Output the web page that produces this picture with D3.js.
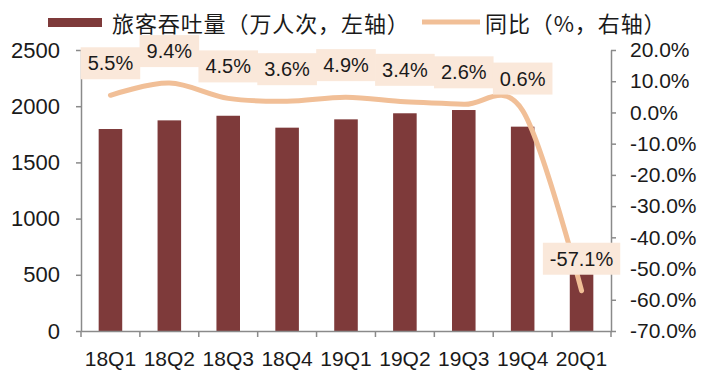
<!DOCTYPE html>
<html>
<head>
<meta charset="utf-8">
<script src="https://cdn.jsdelivr.net/npm/d3@7"></script>
<style>
  html, body { margin: 0; padding: 0; background: #ffffff; }
  svg { display: block; }
</style>
</head>
<body>
<svg id="chart" width="720" height="384"></svg>
<script>
const categories = ['18Q1','18Q2','18Q3','18Q4','19Q1','19Q2','19Q3','19Q4','20Q1'];
const passengers = [1797, 1874, 1915, 1809, 1883, 1937, 1966, 1818, 650];
const yoyPct = [5.5, 9.4, 4.5, 3.6, 4.9, 3.4, 2.6, 0.6, -57.1];
const leftTicks = [0, 500, 1000, 1500, 2000, 2500];
const rightTicks = [20, 10, 0, -10, -20, -30, -40, -50, -60, -70];
const legendBar = '旅客吞吐量（万人次，左轴）';
const legendLine = '同比（%，右轴）';

const barColor = '#7e3a3a';
const lineColor = '#f1bf97';
const boxColor = '#fae8da';
const axisColor = '#8a8a8a';
const textColor = '#1a1a1a';
const latin = '"Liberation Sans", Arial, sans-serif';
const cjk = '"Noto Sans CJK SC", "Liberation Sans", sans-serif';
const pct = v => v.toFixed(1) + '%';

const svg = d3.select('#chart');
const L = 81, R = 611, T = 50, B = 331;

const xAxisBand = d3.scaleBand().domain(categories).range([L, R]).padding(0);
const x = d3.scaleBand().domain(categories).range([L, R]).paddingInner(0.6).paddingOuter(0.3);
const yL = d3.scaleLinear().domain([0, 2500]).range([B, T]);
const yR = d3.scaleLinear().domain([-70, 20]).range([B, T]);

// Bars
svg.append('g').selectAll('rect').data(categories).join('rect')
  .attr('x', d => x(d))
  .attr('width', x.bandwidth())
  .attr('y', (d, i) => yL(passengers[i]))
  .attr('height', (d, i) => B - yL(passengers[i]))
  .attr('fill', barColor);

// Left axis
const gL = svg.append('g').attr('transform', `translate(${L},0)`)
  .call(d3.axisLeft(yL).tickValues(leftTicks).tickSize(5).tickSizeOuter(0).tickPadding(16).tickFormat(d3.format('d')));
// Right axis
const gR = svg.append('g').attr('transform', `translate(${R},0)`)
  .call(d3.axisRight(yR).tickValues(rightTicks).tickSize(5).tickSizeOuter(0).tickPadding(14).tickFormat(pct));
// Bottom axis
const gB = svg.append('g').attr('transform', `translate(0,${B})`)
  .call(d3.axisBottom(xAxisBand).tickSize(0).tickSizeOuter(0).tickPadding(20));
// Boundary ticks on x axis
const bounds = categories.map(c => xAxisBand(c)).concat([xAxisBand.range()[1]]);
gB.append('g').selectAll('line').data(bounds).join('line')
  .attr('x1', d => d).attr('x2', d => d).attr('y1', 0).attr('y2', 6)
  .attr('stroke', axisColor).attr('stroke-width', 1.5);

[gL, gR, gB].forEach(g => {
  g.selectAll('path.domain').attr('stroke', axisColor).attr('stroke-width', 1.5);
  g.selectAll('.tick line').attr('stroke', axisColor).attr('stroke-width', 1.5);
  g.selectAll('.tick text').attr('fill', textColor).style('font-family', latin).style('font-size', '21px');
});
gL.selectAll('.tick text').style('font-size', '22px');

// Line
const line = d3.line()
  .x((d, i) => x(categories[i]) + x.bandwidth() / 2)
  .y(d => yR(d))
  .curve(d3.curveCardinal.tension(0));
svg.append('path').datum(yoyPct)
  .attr('d', line)
  .attr('fill', 'none')
  .attr('stroke', lineColor)
  .attr('stroke-width', 5)
  .attr('stroke-linecap', 'round');

// Data labels with boxes
const lblG = svg.append('g');
yoyPct.forEach((v, i) => {
  const cx = x(categories[i]) + x.bandwidth() / 2;
  const cy = yR(v) - 32;
  const g = lblG.append('g');
  const rect = g.append('rect').attr('fill', boxColor);
  const t = g.append('text')
    .attr('x', cx).attr('y', cy)
    .attr('text-anchor', 'middle')
    .attr('dominant-baseline', 'central')
    .attr('fill', textColor)
    .style('font-family', latin).style('font-size', '20px')
    .text(pct(v));
  const w = t.node().getComputedTextLength();
  rect.attr('x', cx - w / 2 - 7).attr('y', cy - 16).attr('width', w + 14).attr('height', 32);
});

// Legend
const lg = svg.append('g');
lg.append('rect').attr('x', 48).attr('y', 18).attr('width', 54).attr('height', 9).attr('fill', barColor);
lg.append('text').attr('x', 112).attr('y', 22).attr('dominant-baseline', 'central')
  .attr('fill', textColor).style('font-family', cjk).style('font-size', '22px').style('letter-spacing', '0.9px').text(legendBar);
lg.append('line').attr('x1', 422).attr('x2', 480).attr('y1', 22).attr('y2', 22)
  .attr('stroke', lineColor).attr('stroke-width', 5);
lg.append('text').attr('x', 485).attr('y', 22).attr('dominant-baseline', 'central')
  .attr('fill', textColor).style('font-family', cjk).style('font-size', '22px').style('letter-spacing', '0.9px').text(legendLine);
</script>
</body>
</html>
